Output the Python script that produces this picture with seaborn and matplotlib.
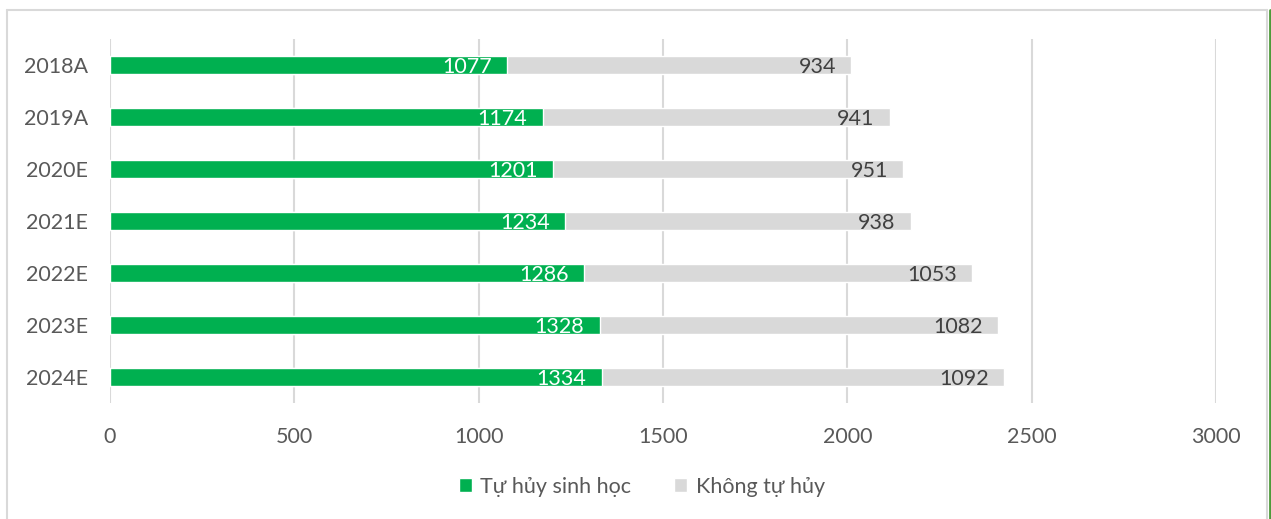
import matplotlib.pyplot as plt
import seaborn as sns
import pandas as pd
from matplotlib.lines import Line2D
from matplotlib.patches import Patch

years = ['2018A', '2019A', '2020E', '2021E', '2022E', '2023E', '2024E']
bio = [1077, 1174, 1201, 1234, 1286, 1328, 1334]
non_bio = [934, 941, 951, 938, 1053, 1082, 1092]
series_names = ['Tự hủy sinh học', 'Không tự hủy']

GREEN = '#00B050'
GRAY = '#D9D9D9'
TEXT = '#595959'
FS = 15.5

sns.set_style('white')
plt.rcParams['font.family'] = ['Lato', 'DejaVu Sans']

df = pd.DataFrame({'year': years, 'bio': bio, 'non_bio': non_bio})
df['total'] = df['bio'] + df['non_bio']

fig = plt.figure(figsize=(12.71, 5.19), dpi=100)
ax = fig.add_axes([0.0865, 0.2235, 0.8702, 0.7014])

# gray = full stack, green drawn over it
sns.barplot(data=df, y='year', x='total', color=GRAY, orient='h', width=0.36,
            saturation=1, ax=ax, zorder=2)
sns.barplot(data=df, y='year', x='bio', color=GREEN, orient='h', width=0.36,
            saturation=1, ax=ax, zorder=3)

gray_bars = ax.containers[0]
green_bars = ax.containers[1]
for cont, vals, col in [(green_bars, bio, 'white'), (gray_bars, non_bio, '#404040')]:
    anns = ax.bar_label(cont, labels=[str(v) for v in vals], label_type='edge',
                        padding=-11, fontsize=FS, color=col, zorder=5)
    for a in anns:
        a.set_ha('right')
        a.set_va('center_baseline')

ax.set_xlim(0, 3000)
ax.set_xticks(range(0, 3001, 500))
ax.grid(axis='x', color=GRAY, linewidth=1.5, zorder=0)
ax.set_axisbelow(True)
ax.set_xlabel('')
ax.set_ylabel('')
for s in ax.spines.values():
    s.set_visible(False)
ax.tick_params(axis='x', length=0, pad=17, labelsize=FS, labelcolor=TEXT)
ax.tick_params(axis='y', length=0, pad=16, labelsize=FS, labelcolor=TEXT)

handles = [Patch(facecolor=GREEN), Patch(facecolor=GRAY)]
fig.legend(handles, series_names, loc='center', bbox_to_anchor=(0.505, 0.062),
           ncol=2, frameon=False, fontsize=FS, labelcolor=TEXT,
           handlelength=0.6, handleheight=0.6, handletextpad=0.4, columnspacing=2.0)

# chart frame
fc = '#D9D9D9'
fig.add_artist(Line2D([7 / 1271, 7 / 1271], [0, 1 - 10 / 519], color=fc, lw=1.5))
fig.add_artist(Line2D([7 / 1271, 1267 / 1271], [1 - 10 / 519, 1 - 10 / 519], color=fc, lw=1.5))
fig.add_artist(Line2D([1267 / 1271, 1267 / 1271], [0, 1 - 10 / 519], color=fc, lw=1.5))
fig.add_artist(Line2D([1270 / 1271, 1270 / 1271], [0, 1 - 10 / 519], color='#4E9A3A', lw=2))

fig.savefig('out.png', dpi=100)
